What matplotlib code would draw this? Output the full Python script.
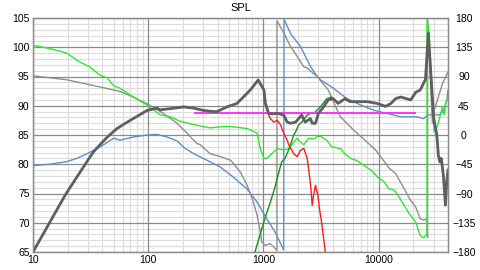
import numpy as np
import matplotlib
matplotlib.use("Agg")
import matplotlib.pyplot as plt
from matplotlib.ticker import FixedLocator, NullLocator, FuncFormatter

plt.rcParams['font.family'] = ['Liberation Sans', 'DejaVu Sans']

# total SPL (left axis, dB)
spl_freq = [10, 19, 24, 33.4, 41, 45, 53.5, 69.7, 98, 119,
            127, 155, 203, 247, 302, 369, 395, 482, 590, 770,
            900, 1010, 1040, 1110, 1190, 1320, 1500, 1610, 1720, 1900,
            2020, 2150, 2300, 2560, 2650, 2830, 3000, 3330, 3650, 4040,
            4450, 5100, 5650, 6450, 7930, 9700, 11500, 12800, 14000, 15500,
            19000, 21000, 23000, 24600, 25500, 27000, 28500, 30000, 32000, 33000,
            34000, 35000, 36500, 38000, 39000, 40000]
spl_db = [65, 74.7, 77.8, 82.1, 84.0, 84.8, 86.1, 87.5, 89.2, 89.6,
          89.3, 89.5, 89.8, 89.6, 89.2, 89.0, 89.0, 89.8, 90.4, 92.7,
          94.4, 92.7, 90.4, 88.7, 88.6, 88.7, 88.4, 87.2, 87.0, 87.2,
          87.8, 88.4, 87.2, 87.8, 87.0, 87.0, 88.7, 89.8, 91.0, 91.2,
          90.4, 91.2, 90.7, 90.7, 90.7, 90.4, 89.9, 90.4, 91.2, 91.5,
          91.0, 92.3, 92.7, 93.9, 94.5, 102.4, 95, 88, 85, 81.5,
          80.4, 81, 78, 73, 77, 79]

# woofer SPL - same as total below 1k, then rolls off
woofer_tail_freq = [1040, 1110, 1150, 1230, 1320, 1410, 1500, 1610, 1660, 1830,
                    1960, 2100, 2240, 2400, 2570, 2650, 2740, 2830, 2970, 3050,
                    3200, 3500]
woofer_tail_db = [90.4, 88.4, 87.8, 87.2, 87.5, 86.7, 85.3, 84.1, 83.3, 81.8,
                  81.3, 82.4, 82.7, 81.0, 76.4, 73.0, 75.0, 76.4, 74.7, 72.7,
                  70.0, 64.0]

# tweeter SPL - rises from below, joins total above 4k
tweeter_freq = [830, 940, 1040, 1140, 1260, 1350, 1440, 1540, 1660, 1770,
                1830, 1900, 2020, 2150, 2400, 2560, 2740, 3120, 3550, 3900]
tweeter_db = [64.5, 68.1, 71.0, 73.3, 76.1, 78.4, 80.4, 81.0, 82.5, 84.1,
              85.0, 85.5, 86.7, 87.2, 88.4, 88.7, 88.7, 89.8, 91.2, 91.5]

# phase curves (right axis, degrees) - repeated freq = wrap
lime_freq = [10, 14, 19.6, 25.6, 31, 38, 44, 50, 57, 75,
             98, 127, 155, 190, 264, 344, 450, 520, 720, 880,
             940, 1010, 1070, 1180, 1320, 1500, 1660, 1800, 1960, 2100,
             2240, 2470, 2740, 2930, 3120, 3550, 3900, 4660, 5100, 5700,
             6400, 7500, 8600, 10100, 11200, 12300, 13700, 16000, 18400, 21000,
             23000, 24600, 26300, 26300, 27400, 28300, 29300, 30300, 32400, 34600,
             35800, 37000, 38300, 40000]
lime_deg = [138, 133, 126, 112, 105, 92, 88, 76, 72, 58,
            46, 31, 28, 21, 15, 11, 13, 13, 10, 3,
            -21, -36, -36, -29, -21, -23, -21, -13, -5, -11,
            -15, -5, -6, -2, -2, -8, -18, -21, -29, -36,
            -39, -47, -54, -67, -72, -83, -85, -103, -121, -134,
            -155, -158, -152, 180, 156, 105, 54, 5, 14, 33,
            43, 31, 49, 58]

gray_freq = [10, 19.6, 38, 57, 75, 98, 136, 178, 217, 264,
             283, 345, 420, 520, 630, 720, 800, 880, 940, 970,
             1040, 1140, 1230, 1310, 1310, 1500, 1720, 1960, 2240, 2400,
             2740, 2930, 3660, 4050, 4660, 5300, 6100, 7500, 9400, 10400,
             12300, 14000, 16000, 19000, 21000, 23000, 24600, 26200, 26600, 26600,
             27500, 28500, 29300, 30300, 32400, 35800, 38300, 40000]
gray_deg = [91, 85, 74, 67, 58, 48, 33, 18, 3, -13,
            -15, -29, -33, -39, -57, -77, -98, -123, -149, -165,
            -170, -167, -172, -178, 176, 157, 136, 121, 105, 103,
            94, 90, 69, 51, 28, 18, 7, -7, -23, -33,
            -51, -59, -77, -101, -111, -129, -131, -129, -158, 180,
            135, 63, 18, 38, 54, 79, 90, 97]

blue_freq = [10, 14, 19.6, 24, 29.3, 35.8, 41, 50, 57, 75,
             98, 119, 145, 178, 203, 249, 325, 420, 550, 720,
             880, 1070, 1260, 1500, 1510, 1720, 2100, 2570, 2930, 3120,
             4050, 5300, 7000, 9100, 11900, 15500, 21700, 24600, 26600, 30300,
             33700, 37000, 39400, 40000]
blue_deg = [-47, -45, -41, -36, -29, -21, -15, -5, -8, -3,
            0, 1, -3, -9, -19, -29, -39, -49, -65, -83,
            -103, -129, -149, -177, 178, 156, 136, 105, 90, 85,
            72, 56, 46, 38, 33, 28, 28, 25, 31, 31,
            31, 38, 58, 69]

# target level line
ref_freq = [257, 20700]
ref_db = [88.8, 88.8]

x_ticks = [10, 100, 1000, 10000]
spl_ticks = [65, 70, 75, 80, 85, 90, 95, 100, 105]
phase_ticks = [-180, -135, -90, -45, 0, 45, 90, 135, 180]

# build woofer / tweeter full series from the pieces
spl_freq_a = np.array(spl_freq)
spl_db_a = np.array(spl_db)
low = spl_freq_a <= 1010
woofer_freq = np.concatenate([spl_freq_a[low], woofer_tail_freq])
woofer_db = np.concatenate([spl_db_a[low], woofer_tail_db])
high = spl_freq_a >= 4040
tw_freq = np.concatenate([tweeter_freq, spl_freq_a[high]])
tw_db = np.concatenate([tweeter_db, spl_db_a[high]])

fig = plt.figure(figsize=(4.8, 2.7), dpi=100)
# phase axis underneath, carries the grid
ax_ph = fig.add_axes([33 / 480, 18 / 270, 415 / 480, 234 / 270])
ax = ax_ph.twinx()
ax.set_zorder(ax_ph.get_zorder() + 1)
ax.patch.set_visible(False)

major_c = '#8a8a8a'
minor_c = '#dcdcdc'

ax_ph.set_xscale('log')
ax_ph.set_xlim(10, 40000)
ax_ph.set_ylim(-180, 180)
ax_ph.xaxis.set_major_locator(FixedLocator(x_ticks))
ax_ph.xaxis.set_minor_locator(NullLocator())
ax_ph.xaxis.set_major_formatter(FuncFormatter(lambda v, p: '%d' % v))
ax_ph.yaxis.set_major_locator(FixedLocator(phase_ticks))
ax_ph.yaxis.set_minor_locator(NullLocator())

# grid drawn by hand so the major lines sit on top of all minor ones
minor_x = [m * 10 ** d for d in range(1, 5) for m in range(2, 10) if m * 10 ** d < 40000]
minor_y = [v for v in range(-180, 181, 9) if v % 45 != 0]
ax_ph.vlines(minor_x, -180, 180, color=minor_c, lw=0.8, zorder=0.5)
ax_ph.hlines(minor_y, 10, 40000, color=minor_c, lw=0.8, zorder=0.5)
ax_ph.vlines(x_ticks, -180, 180, color=major_c, lw=0.9, zorder=0.6)
ax_ph.hlines(phase_ticks, 10, 40000, color=major_c, lw=0.9, zorder=0.6)

ax_ph.yaxis.tick_right()
ax_ph.tick_params(which='both', length=0)
ax_ph.tick_params(axis='y', labelsize=7.5, pad=11.5)
ax_ph.tick_params(axis='x', labelsize=7.5, pad=2.5)
for lab in ax_ph.get_yticklabels():
    lab.set_horizontalalignment('center')

ax_ph.plot(blue_freq, blue_deg, color='#5b8fc9', lw=1.0)
ax_ph.plot(gray_freq, gray_deg, color='#8e8e8e', lw=1.0)
ax_ph.plot(lime_freq, lime_deg, color='#2ee82e', lw=1.0)

ax.set_ylim(65, 105)
ax.yaxis.set_major_locator(FixedLocator(spl_ticks))
ax.yaxis.tick_left()
ax.tick_params(which='both', length=0)
ax.tick_params(axis='y', labelsize=7.5, pad=2.5)

ax.plot(woofer_freq, woofer_db, color='#ff1a1a', lw=1.0)
ax.plot(tw_freq, tw_db, color='#129212', lw=1.0)
ax.plot(ref_freq, ref_db, color='#ff33ff', lw=1.4)
ax.plot(spl_freq, spl_db, color='#5f5f5f', lw=2.0)

for a in (ax, ax_ph):
    for sp in a.spines.values():
        sp.set_color(major_c)
        sp.set_linewidth(0.9)

ax.set_title('SPL', fontsize=8, pad=5)

fig.savefig('out.png', dpi=100)
